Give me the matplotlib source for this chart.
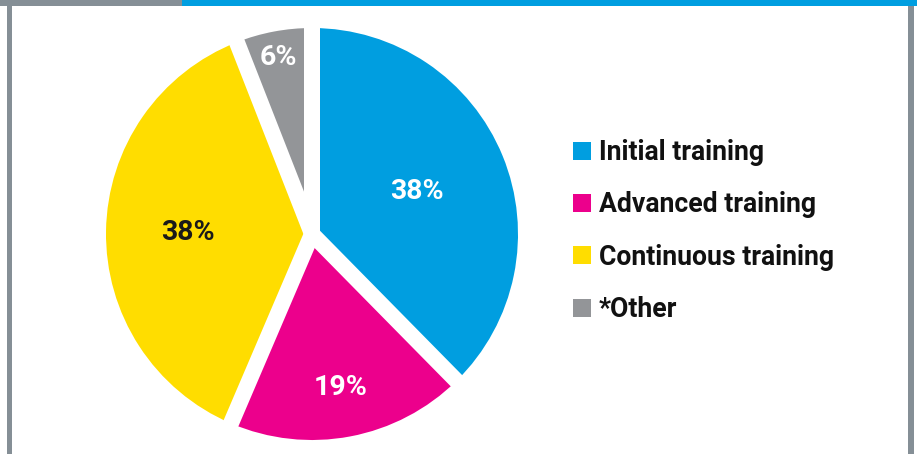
import matplotlib
matplotlib.use("Agg")
import matplotlib.pyplot as plt
from matplotlib.patches import Rectangle, Patch
import numpy as np

categories = ["Initial training", "Advanced training", "Continuous training", "*Other"]
shares = [38, 19, 38, 6]
colors = ["#009ee0", "#ec008c", "#ffdd00", "#939598"]
label_colors = ["white", "white", "#1a1a1a", "white"]
label_radius = [0.55, 0.76, 0.60, 0.87]

plt.rcParams["font.family"] = ["Roboto", "DejaVu Sans"]

W, H = 917, 454
fig = plt.figure(figsize=(W / 100, H / 100), dpi=100)
fig.patch.set_facecolor("white")

# frame: top bar and side rules
frame_gray = "#858f96"
def px_rect(x0, y0, x1, y1, color):
    fig.patches.append(Rectangle((x0 / W, 1 - y1 / H), (x1 - x0) / W, (y1 - y0) / H,
                                 transform=fig.transFigure, color=color, lw=0, zorder=0))
px_rect(0, 0, 182, 6, frame_gray)
px_rect(182, 0, W, 6, "#009ee0")
px_rect(7, 6, 12, H, frame_gray)
px_rect(908, 6, 914, H, frame_gray)

ax = fig.add_axes([0, 0, 1, 1])
cx, cy, r = 312, H - 234, 206
wedges, _ = ax.pie(shares, colors=colors, startangle=90, counterclock=False,
                   center=(cx, cy), radius=r, wedgeprops=dict(linewidth=0))
ax.set_xlim(0, W)
ax.set_ylim(0, H)
ax.set_aspect("equal")
ax.axis("off")

# white separators along each wedge boundary
gap_pt = 16 * 72 / 100
for w in wedges:
    a = np.deg2rad(w.theta1)
    ax.plot([cx, cx + (r + 6) * np.cos(a)], [cy, cy + (r + 6) * np.sin(a)],
            color="white", lw=gap_pt, solid_capstyle="butt", zorder=5)

for w, v, tc, f in zip(wedges, shares, label_colors, label_radius):
    mid = np.deg2rad((w.theta1 + w.theta2) / 2)
    ax.text(cx + f * r * np.cos(mid), cy + f * r * np.sin(mid), f"{v}%",
            ha="center", va="center", color=tc, fontsize=20.5, fontweight="bold", zorder=6)

handles = [Patch(facecolor=c, edgecolor="none") for c in colors]
fs = 19.2
leg = fig.legend(handles, categories, loc="upper left", bbox_to_anchor=(573 / W, 1 - 139 / H),
                 frameon=False, handlelength=0.66, handleheight=0.66,
                 handletextpad=0.3, labelspacing=0.95, borderaxespad=0, borderpad=0,
                 prop=dict(weight="bold", size=fs))
for t in leg.get_texts():
    t.set_color("#111111")

fig.savefig("out.png", dpi=100)
